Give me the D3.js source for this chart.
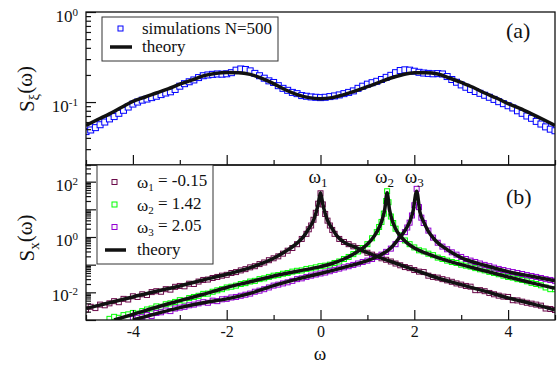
<!DOCTYPE html>
<html>
<head>
<meta charset="utf-8">
<script src="https://cdn.jsdelivr.net/npm/d3@7"></script>
<style>
  body { margin: 0; background: #fff; }
  text { font-family: "Liberation Serif", "Times New Roman", serif; fill: #111; }
</style>
</head>
<body>
<div id="chart"></div>
<script>
// ---- data ----
const xTicksMajor = [-4, -2, 0, 2, 4];
const xTicksMinor = [-5, -3, -1, 1, 3, 5];
const xTickLabels = ['-4', '-2', '0', '2', '4'];

// panel (a): S_xi(omega)
const theoryAX = [-5, -4.75, -4.5, -4.25, -4, -3.75, -3.5, -3.25, -3, -2.75, -2.5, -2.25, -2, -1.75, -1.5, -1.25, -1, -0.75, -0.5, -0.25, 0,
  0.25, 0.5, 0.75, 1, 1.25, 1.5, 1.75, 2, 2.25, 2.5, 2.75, 3, 3.25, 3.5, 3.75, 4, 4.25, 4.5, 4.75, 5];
const theoryAY = [0.055, 0.064, 0.074, 0.087, 0.102, 0.113, 0.126, 0.140, 0.158, 0.175, 0.195, 0.207, 0.213, 0.212, 0.203, 0.183, 0.160, 0.137, 0.121, 0.112, 0.109,
  0.112, 0.121, 0.133, 0.148, 0.165, 0.185, 0.201, 0.211, 0.212, 0.205, 0.185, 0.165, 0.146, 0.126, 0.111, 0.096, 0.085, 0.074, 0.064, 0.055];

const simAX = [-5.0, -4.9, -4.8, -4.7, -4.6, -4.5, -4.4, -4.3, -4.2, -4.1, -4.0, -3.9, -3.8, -3.7, -3.6, -3.5, -3.4, -3.3, -3.2, -3.1,
  -3.0, -2.9, -2.8, -2.7, -2.6, -2.5, -2.4, -2.3, -2.2, -2.1, -2.0, -1.9, -1.8, -1.7, -1.6, -1.5, -1.4, -1.3, -1.2, -1.1,
  -1.0, -0.9, -0.8, -0.7, -0.6, -0.5, -0.4, -0.3, -0.2, -0.1, 0.0, 0.1, 0.2, 0.3, 0.4, 0.5, 0.6, 0.7, 0.8, 0.9,
  1.0, 1.1, 1.2, 1.3, 1.4, 1.5, 1.6, 1.7, 1.8, 1.9, 2.0, 2.1, 2.2, 2.3, 2.4, 2.5, 2.6, 2.7, 2.8, 2.9,
  3.0, 3.1, 3.2, 3.3, 3.4, 3.5, 3.6, 3.7, 3.8, 3.9, 4.0, 4.1, 4.2, 4.3, 4.4, 4.5, 4.6, 4.7, 4.8, 4.9, 5.0];
const simAY = [0.047, 0.049, 0.052, 0.056, 0.060, 0.065, 0.069, 0.075, 0.081, 0.088, 0.095, 0.100, 0.105, 0.108, 0.112, 0.116, 0.121, 0.126, 0.130, 0.138,
  0.150, 0.160, 0.168, 0.176, 0.187, 0.196, 0.200, 0.203, 0.205, 0.204, 0.206, 0.212, 0.226, 0.233, 0.230, 0.222, 0.208, 0.196, 0.184, 0.172,
  0.165, 0.152, 0.142, 0.135, 0.128, 0.124, 0.118, 0.116, 0.114, 0.113, 0.112, 0.113, 0.115, 0.117, 0.120, 0.124, 0.128, 0.133, 0.142, 0.150,
  0.158, 0.164, 0.170, 0.178, 0.188, 0.198, 0.212, 0.224, 0.228, 0.226, 0.220, 0.214, 0.210, 0.208, 0.206, 0.207, 0.205, 0.192, 0.178, 0.166,
  0.155, 0.146, 0.138, 0.131, 0.125, 0.119, 0.113, 0.107, 0.101, 0.096, 0.091, 0.086, 0.080, 0.075, 0.070, 0.066, 0.061, 0.057, 0.053, 0.050, 0.048];

// panel (b): S_x(omega) theory
const theoryW1 = [[-5, 0.0026], [-4.5, 0.0042], [-4, 0.0068], [-3.5, 0.011], [-3, 0.017], [-2.5, 0.028], [-2, 0.045], [-1.5, 0.078],
  [-1, 0.17], [-0.75, 0.30], [-0.5, 0.60], [-0.35, 1.1], [-0.25, 2.0], [-0.15, 4.0], [-0.1, 7], [-0.05, 15], [0, 40],
  [0.05, 15], [0.1, 7], [0.15, 4.0], [0.25, 2.0], [0.35, 1.1], [0.5, 0.65], [0.75, 0.42], [1, 0.27], [1.5, 0.13], [2, 0.065],
  [2.5, 0.033], [3, 0.019], [3.5, 0.011], [4, 0.0063], [4.5, 0.0039], [5, 0.0023]];
const theoryW2 = [[-4.4, 0.001], [-4, 0.0016], [-3.5, 0.0029], [-3, 0.0050], [-2.5, 0.0085], [-2, 0.015], [-1.5, 0.024], [-1, 0.039],
  [-0.5, 0.058], [0, 0.085], [0.25, 0.11], [0.5, 0.16], [0.75, 0.27], [1.0, 0.55], [1.15, 1.1], [1.25, 2.2], [1.32, 4.5], [1.37, 10], [1.42, 40],
  [1.47, 10], [1.52, 4.5], [1.6, 2.0], [1.7, 1.1], [1.85, 0.6], [2.0, 0.40], [2.25, 0.26], [2.5, 0.18], [3, 0.10], [3.5, 0.06],
  [4, 0.036], [4.5, 0.022], [5, 0.014]];
const theoryW3 = [[-4.0, 0.001], [-3.5, 0.0017], [-3, 0.0028], [-2.5, 0.0042], [-2, 0.0058], [-1.5, 0.0092], [-1, 0.0175], [-0.5, 0.030],
  [0, 0.048], [0.5, 0.080], [1, 0.14], [1.25, 0.21], [1.5, 0.40], [1.65, 0.8], [1.8, 1.7], [1.9, 3.5], [1.97, 8], [2.05, 45],
  [2.12, 8], [2.2, 3.5], [2.3, 1.6], [2.45, 0.75], [2.7, 0.35], [3, 0.18], [3.5, 0.095], [4, 0.056], [4.5, 0.038], [5, 0.026]];

// panel (b): simulations
const simW1 = [[-5.0, 0.0024], [-4.9, 0.0030], [-4.8, 0.0027], [-4.7, 0.0036], [-4.6, 0.0034], [-4.5, 0.0040], [-4.4, 0.0048], [-4.3, 0.0044],
  [-4.2, 0.0058], [-4.1, 0.0055], [-4.0, 0.0072], [-3.9, 0.0068], [-3.8, 0.0085], [-3.7, 0.0080], [-3.6, 0.0102], [-3.5, 0.0110],
  [-3.4, 0.0105], [-3.3, 0.0130], [-3.2, 0.0125], [-3.1, 0.0158], [-3.0, 0.0170], [-2.9, 0.0165], [-2.8, 0.0205], [-2.7, 0.0200],
  [-2.6, 0.0245], [-2.5, 0.0280], [-2.4, 0.0290], [-2.3, 0.0330], [-2.2, 0.0360], [-2.1, 0.0400], [-2.0, 0.0430], [-1.9, 0.0500],
  [-1.8, 0.0540], [-1.7, 0.0620], [-1.6, 0.0690], [-1.5, 0.0800], [-1.4, 0.0880], [-1.3, 0.1050], [-1.2, 0.1200], [-1.1, 0.1450],
  [-1.0, 0.1700], [-0.9, 0.2000], [-0.8, 0.2500], [-0.7, 0.3200], [-0.6, 0.4000], [-0.5, 0.5500], [-0.4, 0.8500], [-0.3, 1.3],
  [-0.25, 1.9], [-0.2, 2.6], [-0.15, 4.2], [-0.1, 7.5], [-0.05, 16], [0.0, 38], [0.05, 15], [0.1, 6.8], [0.15, 3.9], [0.2, 2.6],
  [0.25, 1.8], [0.3, 1.3], [0.4, 0.85], [0.5, 0.66], [0.6, 0.55], [0.7, 0.46], [0.8, 0.40], [0.9, 0.33], [1.0, 0.27], [1.1, 0.23],
  [1.2, 0.20], [1.3, 0.17], [1.4, 0.15], [1.5, 0.13], [1.6, 0.11], [1.7, 0.095], [1.8, 0.082], [1.9, 0.075], [2.0, 0.064],
  [2.1, 0.056], [2.2, 0.054], [2.3, 0.040], [2.4, 0.036], [2.5, 0.034], [2.6, 0.030], [2.7, 0.027], [2.8, 0.024], [2.9, 0.021],
  [3.0, 0.019], [3.1, 0.017], [3.2, 0.016], [3.3, 0.012], [3.4, 0.012], [3.5, 0.011], [3.6, 0.0095], [3.7, 0.0085], [3.8, 0.0076],
  [3.9, 0.0070], [4.0, 0.0068], [4.1, 0.0052], [4.2, 0.0051], [4.3, 0.0046], [4.4, 0.0042], [4.5, 0.0039], [4.6, 0.0036],
  [4.7, 0.0033], [4.8, 0.0026], [4.9, 0.0025], [5.0, 0.0023]];
const simW2 = [[-4.5, 0.0011], [-4.4, 0.0013], [-4.3, 0.0012], [-4.2, 0.0015], [-4.1, 0.0016], [-4.0, 0.0018], [-3.9, 0.0017],
  [-3.8, 0.0021], [-3.7, 0.0024], [-3.6, 0.0026], [-3.5, 0.0031], [-3.4, 0.0030], [-3.3, 0.0037], [-3.2, 0.0040], [-3.1, 0.0045],
  [-3.0, 0.0052], [-2.9, 0.0050], [-2.8, 0.0062], [-2.7, 0.0068], [-2.6, 0.0075], [-2.5, 0.0088], [-2.4, 0.0090], [-2.3, 0.0105],
  [-2.2, 0.0118], [-2.1, 0.0130], [-2.0, 0.0150], [-1.9, 0.0160], [-1.8, 0.0175], [-1.7, 0.0200], [-1.6, 0.0215], [-1.5, 0.0245],
  [-1.4, 0.0260], [-1.3, 0.0300], [-1.2, 0.0320], [-1.1, 0.0360], [-1.0, 0.0400], [-0.9, 0.0420], [-0.8, 0.0470], [-0.7, 0.0500],
  [-0.6, 0.0560], [-0.5, 0.0600], [-0.4, 0.0620], [-0.3, 0.0700], [-0.2, 0.0740], [-0.1, 0.0800], [0.0, 0.0880], [0.1, 0.0920],
  [0.2, 0.1000], [0.3, 0.1150], [0.4, 0.1300], [0.5, 0.1600], [0.6, 0.1900], [0.7, 0.2400], [0.8, 0.3000], [0.9, 0.4000],
  [1.0, 0.5500], [1.1, 0.9000], [1.2, 1.5], [1.25, 2.3], [1.3, 3.5], [1.35, 7], [1.4, 20], [1.42, 45], [1.45, 18], [1.5, 5.5],
  [1.55, 3.2], [1.6, 2.0], [1.7, 1.15], [1.8, 0.75], [1.9, 0.55], [2.0, 0.42], [2.1, 0.33], [2.2, 0.30], [2.3, 0.25], [2.4, 0.22],
  [2.5, 0.18], [2.6, 0.16], [2.7, 0.14], [2.8, 0.125], [2.9, 0.115], [3.0, 0.100], [3.1, 0.092], [3.2, 0.085], [3.3, 0.075],
  [3.4, 0.068], [3.5, 0.062], [3.6, 0.055], [3.7, 0.050], [3.8, 0.045], [3.9, 0.040], [4.0, 0.036], [4.1, 0.034], [4.2, 0.030],
  [4.3, 0.028], [4.4, 0.025], [4.5, 0.022], [4.6, 0.020], [4.7, 0.018], [4.8, 0.015], [4.9, 0.013], [5.0, 0.013]];
const simW3 = [[-4.0, 0.0011], [-3.9, 0.0012], [-3.8, 0.0013], [-3.7, 0.0015], [-3.6, 0.0014], [-3.5, 0.0018], [-3.4, 0.0019],
  [-3.3, 0.0022], [-3.2, 0.0021], [-3.1, 0.0026], [-3.0, 0.0028], [-2.9, 0.0030], [-2.8, 0.0034], [-2.7, 0.0036], [-2.6, 0.0040],
  [-2.5, 0.0044], [-2.4, 0.0042], [-2.3, 0.0050], [-2.2, 0.0048], [-2.1, 0.0056], [-2.0, 0.0058], [-1.9, 0.0065], [-1.8, 0.0068],
  [-1.7, 0.0075], [-1.6, 0.0082], [-1.5, 0.0090], [-1.4, 0.0105], [-1.3, 0.0115], [-1.2, 0.0130], [-1.1, 0.0150], [-1.0, 0.0175],
  [-0.9, 0.0190], [-0.8, 0.0210], [-0.7, 0.0230], [-0.6, 0.0260], [-0.5, 0.0300], [-0.4, 0.0320], [-0.3, 0.0360], [-0.2, 0.0400],
  [-0.1, 0.0440], [0.0, 0.0480], [0.1, 0.0520], [0.2, 0.0580], [0.3, 0.0650], [0.4, 0.0720], [0.5, 0.0800], [0.6, 0.0880],
  [0.7, 0.0980], [0.8, 0.1100], [0.9, 0.1250], [1.0, 0.1400], [1.1, 0.1600], [1.2, 0.1900], [1.3, 0.2300], [1.4, 0.2900],
  [1.5, 0.3800], [1.6, 0.5500], [1.7, 0.8500], [1.8, 1.5], [1.85, 2.2], [1.9, 3.3], [1.95, 6], [2.0, 14], [2.05, 55], [2.1, 12],
  [2.15, 5], [2.2, 3.2], [2.3, 1.7], [2.4, 0.95], [2.5, 0.62], [2.6, 0.45], [2.7, 0.36], [2.8, 0.28], [2.9, 0.23], [3.0, 0.19],
  [3.1, 0.16], [3.2, 0.14], [3.3, 0.125], [3.4, 0.11], [3.5, 0.098], [3.6, 0.088], [3.7, 0.078], [3.8, 0.070], [3.9, 0.064],
  [4.0, 0.058], [4.1, 0.054], [4.2, 0.050], [4.3, 0.046], [4.4, 0.042], [4.5, 0.039], [4.6, 0.036], [4.7, 0.033], [4.8, 0.030],
  [4.9, 0.028], [5.0, 0.026]];

const legendB = [
  { sub: '1', val: '-0.15', color: '#6b0a4a' },
  { sub: '2', val: '1.42', color: '#00ff00' },
  { sub: '3', val: '2.05', color: '#9400d3' }
];
const peakLabels = [{ w: 0, sub: '1' }, { w: 1.42, sub: '2' }, { w: 2.05, sub: '3' }];

// ---- layout ----
const width = 558, height = 366;
const left = 86, right = 555;
const aTop = 12, aBot = 165, bTop = 165, bBot = 320;

const x = d3.scaleLinear().domain([-5, 5]).range([left, right]);
const ya = d3.scaleLog().domain([0.02, 1]).range([aBot, aTop]);
const yb = d3.scaleLog().domain([0.001, 400]).range([bBot, bTop]);

const svg = d3.select('#chart').append('svg')
  .attr('width', width)
  .attr('height', height);

svg.append('rect').attr('width', width).attr('height', height).attr('fill', '#fff');

const defs = svg.append('defs');
defs.append('clipPath').attr('id', 'clipA').append('rect')
  .attr('x', left).attr('y', aTop).attr('width', right - left).attr('height', aBot - aTop);
defs.append('clipPath').attr('id', 'clipB').append('rect')
  .attr('x', left).attr('y', bTop).attr('width', right - left).attr('height', bBot - bTop);

function minorLogTicks(y) {
  const [lo, hi] = y.domain();
  const out = [];
  for (let e = Math.floor(Math.log10(lo)); e <= Math.ceil(Math.log10(hi)); e++) {
    for (let m = 2; m <= 9; m++) {
      const v = m * Math.pow(10, e);
      if (v >= lo && v <= hi) out.push(v);
    }
  }
  return out;
}

function supLabels(sel, dy) {
  sel.selectAll('.tick text').each(function (d) {
    const t = d3.select(this);
    const e = Math.round(Math.log10(d));
    t.text(null).attr('dy', dy);
    t.append('tspan').text('10');
    t.append('tspan').attr('dy', '-0.55em').attr('font-size', '11px').text(e);
  });
}

function drawAxes(y, top, bot, majorY, labelY, dy, showX) {
  // bottom ticks (pointing inward)
  const gx = svg.append('g').attr('transform', `translate(0,${bot})`);
  gx.call(d3.axisBottom(x).tickValues(xTicksMajor).tickSizeInner(-10).tickSizeOuter(0).tickPadding(6)
    .tickFormat((d, i) => showX ? xTickLabels[i] : ''));
  gx.append('g').call(d3.axisBottom(x).tickValues(xTicksMinor).tickSizeInner(-5).tickSizeOuter(0).tickFormat(''));
  gx.selectAll('.domain').remove();
  gx.selectAll('.tick text').attr('font-size', '16px');

  // left ticks
  const gy = svg.append('g').attr('transform', `translate(${left},0)`);
  gy.append('g').call(d3.axisLeft(y).tickValues(minorLogTicks(y)).tickSizeInner(-5).tickSizeOuter(0).tickFormat(''));
  gy.append('g').call(d3.axisLeft(y).tickValues(majorY).tickSizeInner(-10).tickSizeOuter(0).tickFormat(''));
  const gl = gy.append('g').call(d3.axisLeft(y).tickValues(labelY).tickSize(0).tickPadding(8));
  supLabels(gl, dy);
  gl.selectAll('.tick text').attr('font-size', '17px');
  gy.selectAll('.domain').remove();

  svg.selectAll('.tick line').attr('stroke', '#111').attr('stroke-width', 1.2);
  svg.selectAll('.tick text').attr('fill', '#111').attr('font-family', '"Liberation Serif", serif');

  // frame
  svg.append('rect').attr('x', left).attr('y', top).attr('width', right - left).attr('height', bot - top)
    .attr('fill', 'none').attr('stroke', '#111').attr('stroke-width', 1.3);
}

function squares(g, data, color, size) {
  g.selectAll(null).data(data).enter().append('rect')
    .attr('x', d => x(d[0]) - size / 2)
    .attr('y', d => d[2] - size / 2)
    .attr('width', size).attr('height', size)
    .attr('fill', '#fafafa')
    .attr('stroke', color).attr('stroke-width', 1);
}

// ---- panel (a) ----
const gA = svg.append('g').attr('clip-path', 'url(#clipA)');
const simA = simAX.map((v, i) => [v, simAY[i], ya(simAY[i])]);
squares(gA, simA, '#0000ff', 6);
gA.append('path')
  .datum(theoryAX.map((v, i) => [v, theoryAY[i]]))
  .attr('d', d3.line().x(d => x(d[0])).y(d => ya(d[1])).curve(d3.curveMonotoneX))
  .attr('fill', 'none').attr('stroke', '#111').attr('stroke-width', 3.5);

// ---- panel (b) ----
const gB = svg.append('g').attr('clip-path', 'url(#clipB)');
[simW1, simW2, simW3].forEach((s, i) => {
  squares(gB, s.map(d => [d[0], d[1], yb(d[1])]), legendB[i].color, 5);
});
const lineB = d3.line().x(d => x(d[0])).y(d => yb(d[1])).curve(d3.curveMonotoneX);
[theoryW1, theoryW2, theoryW3].forEach(t => {
  gB.append('path').datum(t).attr('d', lineB)
    .attr('fill', 'none').attr('stroke', '#111').attr('stroke-width', 3.5);
});

drawAxes(ya, aTop, aBot, [0.1, 1], [0.1, 1], '0.55em', false);
drawAxes(yb, bTop, bBot, [0.001, 0.01, 0.1, 1, 10, 100], [0.01, 1, 100], '0.5em', true);

// ---- legend (a) ----
const legA = svg.append('g');
legA.append('rect').attr('x', 102).attr('y', 17).attr('width', 176).attr('height', 44)
  .attr('fill', '#fff').attr('stroke', '#333').attr('stroke-width', 1);
legA.append('rect').attr('x', 118).attr('y', 26).attr('width', 5).attr('height', 5)
  .attr('fill', '#fafafa').attr('stroke', '#0000ff');
legA.append('text').attr('x', 142).attr('y', 34).attr('font-size', '17px').text('simulations N=500');
legA.append('line').attr('x1', 110).attr('x2', 132).attr('y1', 47).attr('y2', 47)
  .attr('stroke', '#111').attr('stroke-width', 3.5);
legA.append('text').attr('x', 142).attr('y', 52).attr('font-size', '17px').text('theory');

// ---- legend (b) ----
const legB = svg.append('g');
legB.append('rect').attr('x', 97).attr('y', 165).attr('width', 116).attr('height', 99)
  .attr('fill', '#fff').attr('stroke', '#333').attr('stroke-width', 1);
legendB.forEach((d, i) => {
  const cy = 182 + i * 22.5;
  legB.append('rect').attr('x', 112).attr('y', cy - 2.5).attr('width', 5).attr('height', 5)
    .attr('fill', '#fafafa').attr('stroke', d.color);
  const t = legB.append('text').attr('x', 137).attr('y', cy + 6).attr('font-size', '17px');
  t.append('tspan').text('ω');
  t.append('tspan').attr('dy', '0.3em').attr('font-size', '11px').text(d.sub);
  t.append('tspan').attr('dy', '-0.3em').text(' = ' + d.val);
});
legB.append('line').attr('x1', 105).attr('x2', 126).attr('y1', 250).attr('y2', 250)
  .attr('stroke', '#111').attr('stroke-width', 3.5);
legB.append('text').attr('x', 137).attr('y', 255).attr('font-size', '17px').text('theory');

// ---- peak labels ----
peakLabels.forEach(p => {
  const t = svg.append('text').attr('x', x(p.w) - 12).attr('y', 183).attr('font-size', '19px');
  t.append('tspan').text('ω');
  t.append('tspan').attr('dy', '0.3em').attr('font-size', '13px').text(p.sub);
});

// ---- panel labels ----
svg.append('text').attr('x', 506).attr('y', 38).attr('font-size', '22px').text('(a)');
svg.append('text').attr('x', 506).attr('y', 204).attr('font-size', '22px').text('(b)');

// ---- axis titles ----
svg.append('text').attr('x', 320).attr('y', 360).attr('text-anchor', 'middle').attr('font-size', '19px').text('ω');

function yTitle(cy, sub) {
  const t = svg.append('text').attr('transform', `translate(34,${cy}) rotate(-90)`)
    .attr('text-anchor', 'middle').attr('font-size', '21px');
  t.append('tspan').text('S');
  t.append('tspan').attr('dy', '0.3em').attr('font-size', '15px').text(sub);
  t.append('tspan').attr('dy', '-0.3em').text('(ω)');
}
yTitle(89, 'ξ');
yTitle(238, 'x');
</script>
</body>
</html>
